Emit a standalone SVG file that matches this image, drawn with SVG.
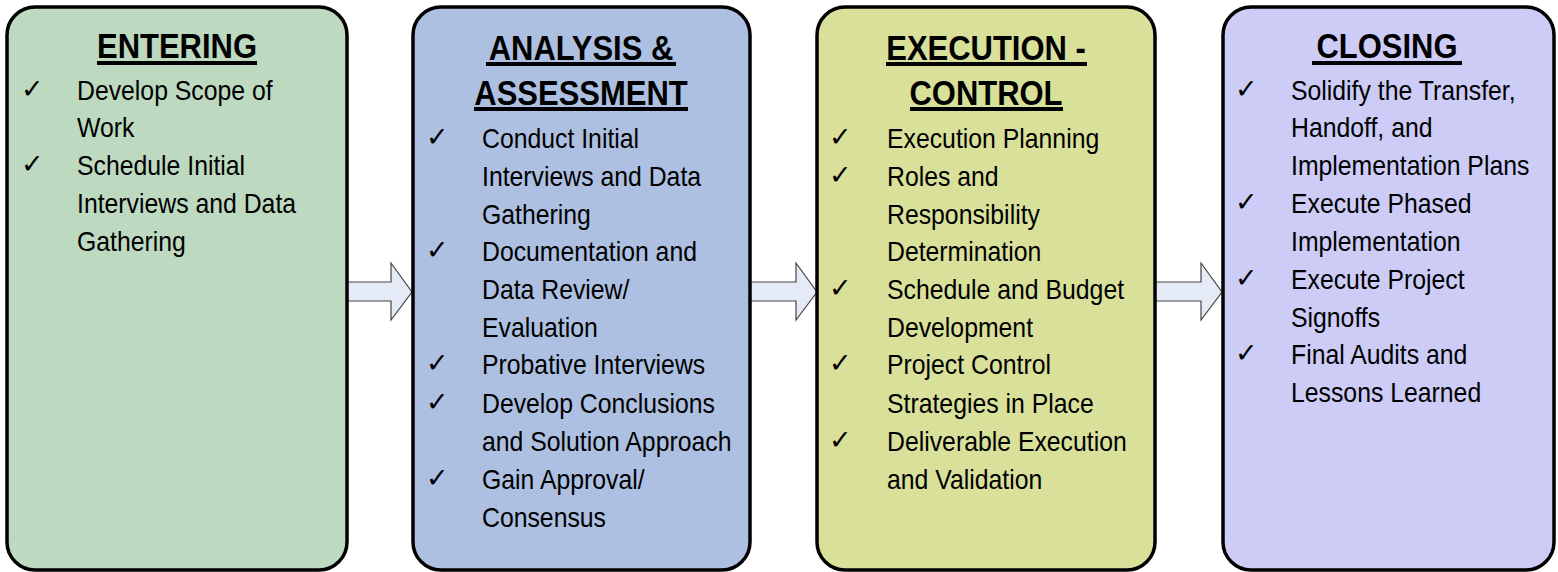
<svg xmlns="http://www.w3.org/2000/svg" width="1558" height="572" viewBox="0 0 1558 572">
<style>
.box{stroke:#000;stroke-width:3.5}
.t{font-family:"Liberation Sans",Arial,sans-serif;font-weight:bold;font-size:35px;fill:#000;text-anchor:middle}
.i{font-family:"Liberation Sans",Arial,sans-serif;font-size:28.5px;fill:#000}
.c{font-family:"DejaVu Sans",sans-serif;font-size:27px;fill:#000}
.u{fill:#000}
.ar{fill:#e4eaf6;stroke:#444;stroke-width:1.2}
</style>
<rect width="1558" height="572" fill="#fff"/>
<g id="connectors">
<polygon class="ar" points="345,282 391,282 391,263 412,292 391,320 391,301 345,301"/>
<polygon class="ar" points="750,282 796,282 796,263 817,292 796,320 796,301 750,301"/>
<polygon class="ar" points="1155,282 1201,282 1201,263 1222,292 1201,320 1201,301 1155,301"/>
</g>
<g id="entering">
<rect class="box" x="7" y="7" width="340" height="563" rx="28" fill="#bdd9c0"/>
<text class="t" transform="translate(177,58) scale(0.885,1)">ENTERING</text>
<rect class="u" x="97" y="61" width="160" height="4"/>
<text class="c" x="21" y="98">✓</text>
<text class="c" x="21" y="173">✓</text>
<text class="i" transform="translate(77,100) scale(0.87,1)">Develop Scope of</text>
<text class="i" transform="translate(77,137) scale(0.87,1)">Work</text>
<text class="i" transform="translate(77,175) scale(0.87,1)">Schedule Initial</text>
<text class="i" transform="translate(77,213) scale(0.87,1)">Interviews and Data</text>
<text class="i" transform="translate(77,251) scale(0.87,1)">Gathering</text>
</g>
<g id="analysis">
<rect class="box" x="413" y="7" width="337" height="563" rx="28" fill="#adc0e1"/>
<text class="t" transform="translate(581,60) scale(0.885,1)">ANALYSIS &amp;</text>
<rect class="u" x="486" y="62" width="190" height="4"/>
<text class="t" transform="translate(581,105) scale(0.885,1)">ASSESSMENT</text>
<rect class="u" x="474" y="107" width="214" height="4"/>
<text class="c" x="426" y="146">✓</text>
<text class="c" x="426" y="259">✓</text>
<text class="c" x="426" y="372">✓</text>
<text class="c" x="426" y="411">✓</text>
<text class="c" x="426" y="487">✓</text>
<text class="i" transform="translate(482,148) scale(0.87,1)">Conduct Initial</text>
<text class="i" transform="translate(482,186) scale(0.87,1)">Interviews and Data</text>
<text class="i" transform="translate(482,224) scale(0.87,1)">Gathering</text>
<text class="i" transform="translate(482,261) scale(0.87,1)">Documentation and</text>
<text class="i" transform="translate(482,299) scale(0.87,1)">Data Review/</text>
<text class="i" transform="translate(482,337) scale(0.87,1)">Evaluation</text>
<text class="i" transform="translate(482,374) scale(0.87,1)">Probative Interviews</text>
<text class="i" transform="translate(482,413) scale(0.87,1)">Develop Conclusions</text>
<text class="i" transform="translate(482,451) scale(0.87,1)">and Solution Approach</text>
<text class="i" transform="translate(482,489) scale(0.87,1)">Gain Approval/</text>
<text class="i" transform="translate(482,527) scale(0.87,1)">Consensus</text>
</g>
<g id="execution">
<rect class="box" x="817" y="7" width="338" height="563" rx="28" fill="#d8e09a"/>
<text class="t" transform="translate(986,60) scale(0.885,1)">EXECUTION -</text>
<rect class="u" x="886" y="62" width="201" height="4"/>
<text class="t" transform="translate(986,105) scale(0.885,1)">CONTROL</text>
<rect class="u" x="910" y="107" width="153" height="4"/>
<text class="c" x="829" y="146">✓</text>
<text class="c" x="829" y="184">✓</text>
<text class="c" x="829" y="297">✓</text>
<text class="c" x="829" y="372">✓</text>
<text class="c" x="829" y="449">✓</text>
<text class="i" transform="translate(887,148) scale(0.87,1)">Execution Planning</text>
<text class="i" transform="translate(887,186) scale(0.87,1)">Roles and</text>
<text class="i" transform="translate(887,224) scale(0.87,1)">Responsibility</text>
<text class="i" transform="translate(887,261) scale(0.87,1)">Determination</text>
<text class="i" transform="translate(887,299) scale(0.87,1)">Schedule and Budget</text>
<text class="i" transform="translate(887,337) scale(0.87,1)">Development</text>
<text class="i" transform="translate(887,374) scale(0.87,1)">Project Control</text>
<text class="i" transform="translate(887,413) scale(0.87,1)">Strategies in Place</text>
<text class="i" transform="translate(887,451) scale(0.87,1)">Deliverable Execution</text>
<text class="i" transform="translate(887,489) scale(0.87,1)">and Validation</text>
</g>
<g id="closing">
<rect class="box" x="1223" y="7" width="331" height="563" rx="28" fill="#cdccf7"/>
<text class="t" transform="translate(1387,58) scale(0.885,1)">CLOSING</text>
<rect class="u" x="1312" y="61" width="150" height="4"/>
<text class="c" x="1235" y="98">✓</text>
<text class="c" x="1235" y="211">✓</text>
<text class="c" x="1235" y="287">✓</text>
<text class="c" x="1235" y="362">✓</text>
<text class="i" transform="translate(1291,100) scale(0.87,1)">Solidify the Transfer,</text>
<text class="i" transform="translate(1291,137) scale(0.87,1)">Handoff, and</text>
<text class="i" transform="translate(1291,175) scale(0.87,1)">Implementation Plans</text>
<text class="i" transform="translate(1291,213) scale(0.87,1)">Execute Phased</text>
<text class="i" transform="translate(1291,251) scale(0.87,1)">Implementation</text>
<text class="i" transform="translate(1291,289) scale(0.87,1)">Execute Project</text>
<text class="i" transform="translate(1291,327) scale(0.87,1)">Signoffs</text>
<text class="i" transform="translate(1291,364) scale(0.87,1)">Final Audits and</text>
<text class="i" transform="translate(1291,402) scale(0.87,1)">Lessons Learned</text>
</g>
</svg>
